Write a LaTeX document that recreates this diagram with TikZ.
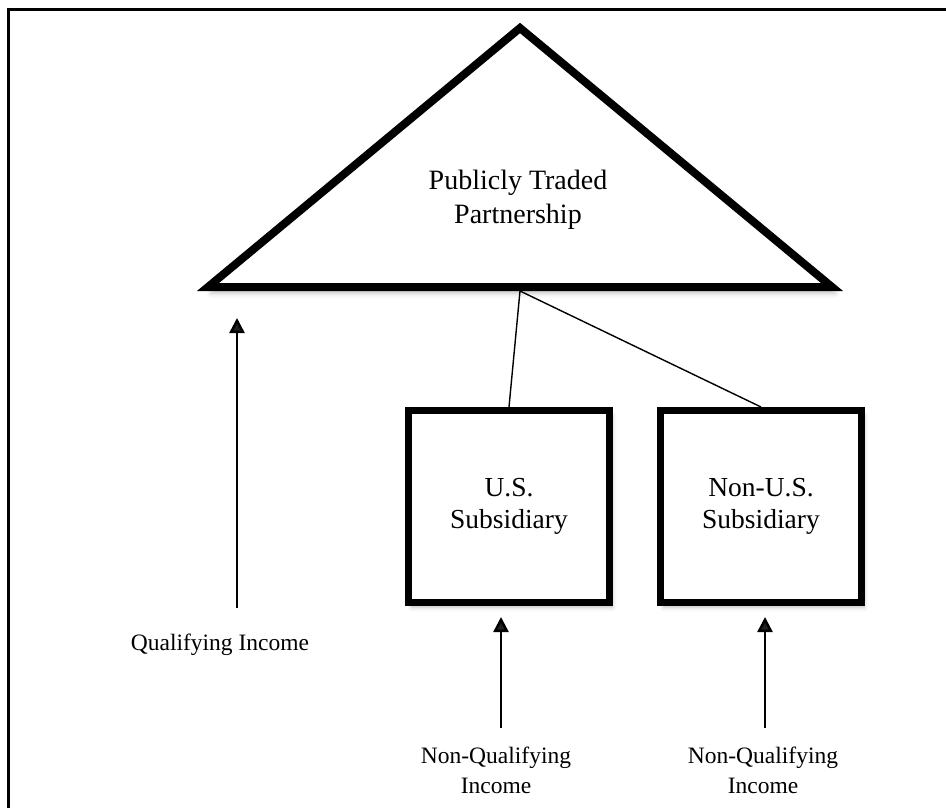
\documentclass[tikz,border=0pt]{standalone}
\usepackage{fontspec}
\setmainfont{Liberation Serif}
\usetikzlibrary{shadows.blur,arrows.meta}
\begin{document}
\begin{tikzpicture}[x=1pt,y=-1pt,
  frame/.style={line width=3pt},
  tri/.style={line width=8pt,line join=miter,fill=white,
    blur shadow={shadow xshift=3pt,shadow yshift=-6pt,shadow blur radius=5pt,shadow opacity=25}},
  subbox/.style={draw,line width=7pt,fill=white,minimum width=201pt,minimum height=192pt,
    inner sep=0pt,align=center,font=\fontsize{27.5}{32}\selectfont,
    blur shadow={shadow xshift=3pt,shadow yshift=-5pt,shadow blur radius=4pt,shadow opacity=25}},
  lbl/.style={align=center,inner sep=0pt,font=\fontsize{23.5}{30}\selectfont},
  link/.style={line width=1.4pt},
  arr/.style={line width=2.5pt,-{Triangle[length=15pt,width=15pt]}}
]
\useasboundingbox (0,0) rectangle (946,808);
\draw[frame] (8,808) -- (8,10) -- (946,10);

% triangle
\draw[tri] (208,287) -- (520,28) -- (832,287) -- cycle;
\node[align=center,inner sep=0pt,font=\fontsize{28}{34}\selectfont] (ptp) at (518,200) {Publicly Traded\\Partnership};
\coordinate (ptpbase) at (520,291);

% boxes
\node[subbox] (us) at (509,506.5) {U.S.\\Subsidiary};
\node[subbox] (nonus) at (761,506.5) {Non-U.S.\\Subsidiary};

\draw[link] (ptpbase) -- ([xshift=0pt]us.north);
\draw[link] (ptpbase) -- (nonus.north);

% labels
\node[lbl] (qi) at (220,645) {Qualifying Income};
\node[lbl] (nq1) at (496,770) {Non-Qualifying\\Income};
\node[lbl] (nq2) at (763,770) {Non-Qualifying\\Income};

\coordinate (qstart) at (237,608);
\coordinate (qtip) at (237,318);
\coordinate (n1start) at (501,728);
\coordinate (n1tip) at (501,617);
\coordinate (n2start) at (765,728);
\coordinate (n2tip) at (765,617);

\draw[arr] (qstart) -- (qtip);
\draw[arr] (n1start) -- (n1tip);
\draw[arr] (n2start) -- (n2tip);
\end{tikzpicture}
\end{document}
